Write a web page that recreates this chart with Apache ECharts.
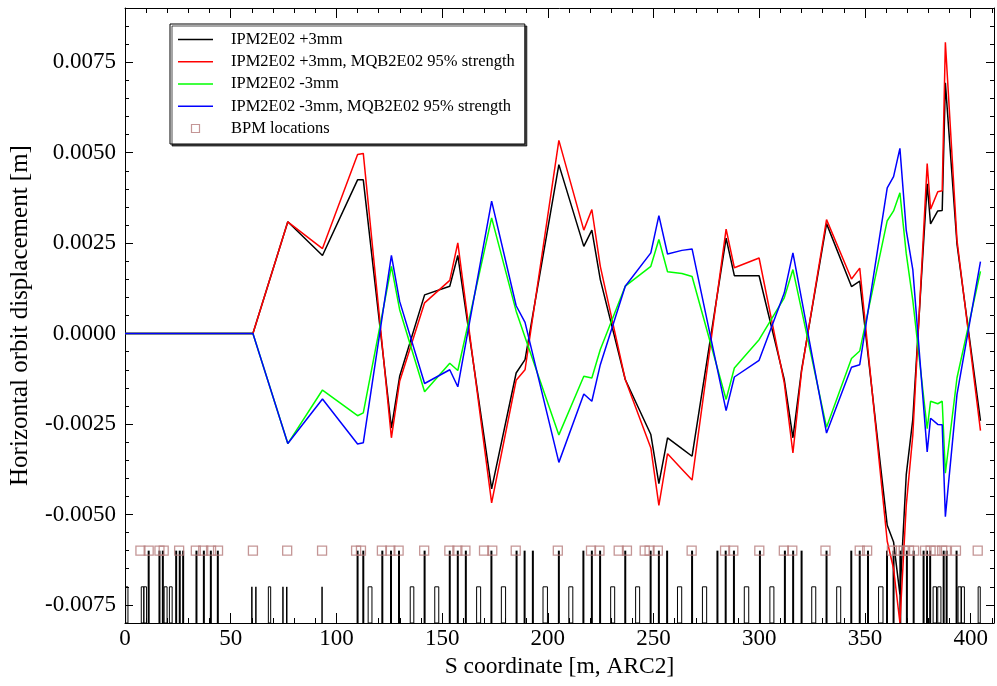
<!DOCTYPE html>
<html>
<head>
<meta charset="utf-8">
<script src="https://cdn.jsdelivr.net/npm/echarts@6/dist/echarts.min.js"></script>
<style>
html,body{margin:0;padding:0;background:#fff;}
#chart{width:997px;height:686px;}
</style>
</head>
<body>
<div id="chart"></div>
<script>
// ---- data ----
const S = [0, 60.5, 77, 93.4, 110, 112.7, 126, 129.9, 141.7, 153.6, 157.4, 173.4, 185, 189.2, 205.2, 217, 220.8, 224.8, 236.6, 248.7, 252.5, 256.6, 263.4, 268.2, 284.3, 288.2, 299.9, 311.8, 315.9, 320, 331.8, 343.6, 347.5, 360.5, 363.5, 366.5, 369.5, 372.6, 379.4, 381, 384.4, 386.5, 388, 393.5, 404.6];

const plus3 = [0, 0, 0.00309, 0.00216, 0.00425, 0.00425, -0.00261, -0.00118, 0.00107, 0.00131, 0.00216, -0.00429, -0.00109, -0.00072, 0.00467, 0.00241, 0.00286, 0.00149, -0.00127, -0.00279, -0.00415, -0.00288, -0.00318, -0.00339, 0.00264, 0.0016, 0.0016, -0.00127, -0.00288, -0.001, 0.00304, 0.0013, 0.00145, -0.0053, -0.00576, -0.00721, -0.0039, -0.00237, 0.00414, 0.00303, 0.00339, 0.0034, 0.00693, 0.00247, -0.00241];

const plus3q95 = [0, 0, 0.00309, 0.00235, 0.00495, 0.00498, -0.00288, -0.00132, 0.00085, 0.00147, 0.00251, -0.00468, -0.00129, -0.001, 0.00534, 0.00286, 0.00343, 0.00186, -0.00127, -0.00316, -0.00475, -0.00332, -0.00375, -0.00405, 0.00289, 0.00182, 0.00209, -0.00136, -0.0033, -0.00104, 0.00315, 0.00151, 0.00181, -0.00574, -0.0065, -0.00799, -0.00475, -0.00281, 0.0047, 0.00344, 0.00392, 0.00395, 0.00805, 0.00258, -0.00268];

const minus3 = [0, 0, -0.00304, -0.00156, -0.00227, -0.00219, 0.00186, 0.00066, -0.00161, -0.00082, -0.00102, 0.0032, 0.00062, -0.0001, -0.0028, -0.00118, -0.00123, -0.00044, 0.00131, 0.00186, 0.0026, 0.00171, 0.00166, 0.00158, -0.00182, -0.00095, -0.00017, 0.00099, 0.00177, 0.00065, -0.00259, -0.00069, -0.00048, 0.00312, 0.00339, 0.00389, 0.00221, 0.00092, -0.00263, -0.00187, -0.00194, -0.00187, -0.00386, -0.00122, 0.00172];

const minus3q95 = [0, 0, -0.00304, -0.00181, -0.00305, -0.00302, 0.00216, 0.00089, -0.00138, -0.001, -0.00147, 0.00366, 0.00077, 0.00031, -0.00356, -0.00167, -0.00187, -0.00086, 0.00131, 0.00223, 0.00326, 0.0022, 0.0023, 0.00234, -0.00213, -0.0012, -0.00074, 0.00112, 0.00223, 0.00095, -0.00275, -0.00093, -0.00086, 0.00403, 0.00434, 0.00512, 0.00285, 0.00177, -0.00327, -0.00234, -0.00251, -0.00252, -0.00506, -0.00168, 0.00199];

const bpmS = [7.3, 11.2, 16.3, 18.3, 25.6, 33.5, 37, 40.7, 44, 60.5, 76.7, 93.2, 109.3, 111.6, 121.5, 125.5, 129.4, 141.5, 153.4, 157.2, 161, 169.8, 173.7, 184.8, 204.7, 220.4, 224.4, 233.5, 237.4, 245.8, 248.1, 252, 268, 283.8, 287.7, 300, 311.6, 315.6, 331.3, 347.5, 351, 362.7, 365.6, 368.3, 370.8, 373.2, 378.4, 381, 383.3, 386.5, 388.3, 393, 403.3];
const bpmY = -0.006;

const quadS = [11.2, 16.3, 17.9, 24.2, 25.9, 27.5, 33.8, 37.3, 40.6, 43.9, 110, 112.7, 121.7, 125.8, 129.6, 141.7, 153.6, 157.4, 161.2, 173.3, 185.2, 189, 192.9, 205.2, 216.8, 220.8, 224.7, 236.6, 248.6, 252.5, 256.4, 268.2, 280.2, 284.1, 288, 300.3, 312.1, 316, 320, 331.8, 343.5, 347.5, 351.4, 360.4, 363.5, 366.7, 369.8, 373, 377.7, 379.3, 380.8, 387.2, 388.6, 393.3];
const quadTop = -0.006;

const corrS = [60, 61.9, 74.7, 76.5, 93.2];
const corrTop = -0.007;

const dipoleStart = [0.3, 7.7, 8.9, 18.5, 21, 67.8, 115, 134.9, 146.5, 166.3, 178, 197.7, 209.9, 229.7, 241.5, 261.3, 273.1, 292.9, 305, 324.8, 336.6, 356.4, 382.2, 384.4, 394, 395.6, 403.5];
const dipoleEnd   = [1.4, 8.9, 10.2, 19.9, 22.3, 68.9, 116.8, 136.6, 148.4, 168.2, 180, 199.8, 211.8, 231.6, 243.4, 263.3, 275.1, 295, 306.9, 326.7, 338.5, 358.5, 383.8, 385.9, 395.4, 397, 404.5];
const dipoleTop = -0.007;
const latticeBase = -0.008;

const xMajor = [0, 50, 100, 150, 200, 250, 300, 350, 400];
const yMajor = [-0.0075, -0.005, -0.0025, 0, 0.0025, 0.005, 0.0075];

const names = ['IPM2E02 +3mm', 'IPM2E02 +3mm, MQB2E02 95% strength', 'IPM2E02 -3mm', 'IPM2E02 -3mm, MQB2E02 95% strength', 'BPM locations'];
// ---------------------------------------

const FONT = 'Liberation Serif';
const BPM_COLOR = '#b57c7c';
const chart = echarts.init(document.getElementById('chart'), null, {renderer: 'canvas'});

function isMajorY(v) { return yMajor.some(m => Math.abs(m - v) < 1e-9); }
function isMajorX(v) { return xMajor.some(m => Math.abs(m - v) < 1e-9); }

const XMIN = 0, XMAX = 411, YMIN = -0.008, YMAX = 0.009;
const lineAxis = {onZero: false, lineStyle: {color: '#000', width: 1}};
const noLine = {show: false, onZero: false};
const LINE_ICON = 'path://M0,0L40,0L40,1.6L0,1.6Z';

function mkLine(name, vals, color) {
  return {
    name, type: 'line', xAxisIndex: 0, yAxisIndex: 0,
    data: S.map((s, i) => [s, vals[i]]),
    symbol: 'none', lineStyle: {color, width: 1.5}, itemStyle: {color},
    z: 5, animation: false
  };
}

const option = {
  animation: false,
  backgroundColor: '#fff',
  grid: {left: 125, right: 0, top: 8, bottom: 63, containLabel: false},
  legend: {
    left: 170, top: 24, orient: 'vertical',
    padding: [7, 10, 7, 8],
    itemWidth: 35, itemHeight: 8, itemGap: 5.25,
    borderColor: '#000', borderWidth: 1, backgroundColor: '#fff',
    shadowColor: 'rgba(0,0,0,0.7)', shadowOffsetX: 2, shadowOffsetY: 2, shadowBlur: 0,
    textStyle: {fontFamily: FONT, fontSize: 16.5, color: '#000', lineHeight: 17, padding: [0, 0, 0, 13]},
    data: [
      {name: names[0], icon: LINE_ICON}, {name: names[1], icon: LINE_ICON},
      {name: names[2], icon: LINE_ICON}, {name: names[3], icon: LINE_ICON},
      {name: names[4], icon: 'path://M0,0L10,0L10,10L0,10Z',
       itemStyle: {color: 'rgba(255,255,255,0)', borderColor: BPM_COLOR, borderWidth: 1.2}}
    ]
  },
  xAxis: [
    {type: 'value', position: 'bottom', min: XMIN, max: XMAX, interval: 10,
     axisLine: lineAxis, splitLine: {show: false},
     axisTick: {inside: true, length: 5, lineStyle: {color: '#000'}},
     axisLabel: {fontFamily: FONT, fontSize: 23, color: '#000', margin: 4,
       formatter: v => isMajorX(v) ? String(v) : ''},
     name: 'S coordinate [m, ARC2]', nameLocation: 'middle', nameGap: 29,
     nameTextStyle: {fontFamily: FONT, fontSize: 23.5, color: '#000'}},
    {type: 'value', position: 'bottom', min: XMIN, max: XMAX,
     axisLine: noLine, splitLine: {show: false}, axisLabel: {show: false},
     axisTick: {inside: true, length: 10, customValues: xMajor, lineStyle: {color: '#000'}}},
    {type: 'value', position: 'top', min: XMIN, max: XMAX, interval: 10,
     axisLine: lineAxis, splitLine: {show: false}, axisLabel: {show: false},
     axisTick: {inside: true, length: 5, lineStyle: {color: '#000'}}},
    {type: 'value', position: 'top', min: XMIN, max: XMAX,
     axisLine: noLine, splitLine: {show: false}, axisLabel: {show: false},
     axisTick: {inside: true, length: 10, customValues: xMajor, lineStyle: {color: '#000'}}}
  ],
  yAxis: [
    {type: 'value', position: 'left', min: YMIN, max: YMAX, interval: 0.0005,
     axisLine: lineAxis, splitLine: {show: false},
     axisTick: {inside: true, length: 4, lineStyle: {color: '#000'}},
     axisLabel: {fontFamily: FONT, fontSize: 23, color: '#000', margin: 9,
       formatter: v => isMajorY(v) ? (Math.abs(v) < 1e-12 ? '0.0000' : v.toFixed(4)) : ''},
     name: 'Horizontal orbit displacement [m]', nameLocation: 'middle', nameGap: 92,
     nameTextStyle: {fontFamily: FONT, fontSize: 25, color: '#000'}},
    {type: 'value', position: 'left', min: YMIN, max: YMAX,
     axisLine: noLine, splitLine: {show: false}, axisLabel: {show: false},
     axisTick: {inside: true, length: 8, customValues: yMajor, lineStyle: {color: '#000'}}},
    {type: 'value', position: 'right', min: YMIN, max: YMAX, interval: 0.0005,
     axisLine: lineAxis, splitLine: {show: false}, axisLabel: {show: false},
     axisTick: {inside: true, length: 4, lineStyle: {color: '#000'}}},
    {type: 'value', position: 'right', min: YMIN, max: YMAX,
     axisLine: noLine, splitLine: {show: false}, axisLabel: {show: false},
     axisTick: {inside: true, length: 8, customValues: yMajor, lineStyle: {color: '#000'}}}
  ],
  series: [
    {
      name: 'quads', type: 'custom', xAxisIndex: 0, yAxisIndex: 0, silent: true, z: 2,
      data: quadS.map(s => [s, quadTop]),
      renderItem: (params, api) => {
        const p0 = api.coord([api.value(0), latticeBase]);
        const p1 = api.coord([api.value(0), api.value(1)]);
        return {type: 'line', shape: {x1: p0[0], y1: p0[1], x2: p1[0], y2: p1[1]},
                style: {stroke: '#000', lineWidth: 2}};
      }
    },
    {
      name: 'correctors', type: 'custom', xAxisIndex: 0, yAxisIndex: 0, silent: true, z: 2,
      data: corrS.map(s => [s, corrTop]),
      renderItem: (params, api) => {
        const p0 = api.coord([api.value(0), latticeBase]);
        const p1 = api.coord([api.value(0), api.value(1)]);
        return {type: 'line', shape: {x1: p0[0], y1: p0[1], x2: p1[0], y2: p1[1]},
                style: {stroke: '#000', lineWidth: 1.5}};
      }
    },
    {
      name: 'dipoles', type: 'custom', xAxisIndex: 0, yAxisIndex: 0, silent: true, z: 2,
      data: dipoleStart.map((a, i) => [a, dipoleTop, dipoleEnd[i]]),
      renderItem: (params, api) => {
        const p0 = api.coord([api.value(0), api.value(1)]);
        const p1 = api.coord([api.value(2), latticeBase]);
        return {type: 'rect',
                shape: {x: p0[0], y: p0[1], width: p1[0] - p0[0], height: p1[1] - p0[1]},
                style: {fill: 'none', stroke: '#000', lineWidth: 1}};
      }
    },
    mkLine(names[0], plus3, '#000000'),
    mkLine(names[1], plus3q95, '#ff0000'),
    mkLine(names[2], minus3, '#00ff00'),
    mkLine(names[3], minus3q95, '#0000ff'),
    {
      name: names[4], type: 'scatter', xAxisIndex: 0, yAxisIndex: 0, z: 6,
      data: bpmS.map(s => [s, bpmY]),
      symbol: 'rect', symbolSize: 9,
      itemStyle: {color: 'rgba(255,255,255,0)', borderColor: BPM_COLOR, borderWidth: 1.3}
    }
  ]
};
chart.setOption(option);
</script>
</body>
</html>
